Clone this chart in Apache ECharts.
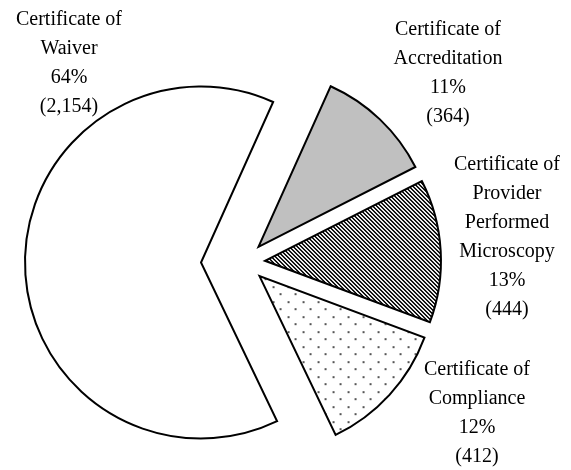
<!DOCTYPE html>
<html lang="en">
<head>
<meta charset="UTF-8">
<title>Certificate types</title>
<script src="https://cdn.jsdelivr.net/npm/echarts@6/dist/echarts.min.js"></script>
<style>
    body { margin: 0; background: #fff; }
    #chart { width: 571px; height: 470px; }
</style>
</head>
<body>
<div id="chart"></div>
<script>
    // slices, clockwise from the top edge of Accreditation
    const names = [
        'Certificate of\nAccreditation',
        'Certificate of\nProvider\nPerformed\nMicroscopy',
        'Certificate of\nCompliance',
        'Certificate of\nWaiver'
    ];
    const counts = [364, 444, 412, 2154];
    // centre of each label block
    const labelPos = [[448, 73], [507, 237], [477, 413], [69, 63]];

    // hatched fills
    function stripes() {
        const c = document.createElement('canvas');
        c.width = 4; c.height = 4;
        const ctx = c.getContext('2d');
        ctx.fillStyle = '#fff';
        ctx.fillRect(0, 0, 4, 4);
        ctx.fillStyle = '#000';
        for (let y = 0; y < 4; y++) {
            for (let x = 0; x < 4; x++) {
                const k = ((x - y) % 4 + 4) % 4;
                if (k < 2) ctx.fillRect(x, y, 1, 1);
            }
        }
        return { image: c, repeat: 'repeat' };
    }

    function dots() {
        const c = document.createElement('canvas');
        c.width = 15; c.height = 15;
        const ctx = c.getContext('2d');
        ctx.fillStyle = '#fff';
        ctx.fillRect(0, 0, 15, 15);
        ctx.fillStyle = '#555';
        ctx.fillRect(2, 2, 2, 2);
        ctx.fillRect(9, 9, 2, 2);
        return { image: c, repeat: 'repeat' };
    }

    const fills = ['#c0c0c0', stripes(), dots(), '#fff'];

    function pieSeries(shown, offset) {
        return {
            type: 'pie',
            center: [244, 262],
            radius: 176,
            startAngle: 65.8,
            selectedMode: 'multiple',
            selectedOffset: offset,
            animation: false,
            silent: true,
            emphasis: { disabled: true },
            label: { show: false },
            labelLine: { show: false },
            data: counts.map((v, i) => {
                const on = shown.includes(i);
                const style = on
                    ? { color: fills[i], borderColor: '#000', borderWidth: 2, borderJoin: 'miter' }
                    : { color: 'rgba(0,0,0,0)', borderWidth: 0, opacity: 0 };
                return {
                    name: names[i],
                    value: v,
                    selected: on,
                    itemStyle: style,
                    select: { itemStyle: style }
                };
            })
        };
    }

    const total = counts.reduce((a, b) => a + b, 0);
    const labels = counts.map((v, i) => ({
        type: 'text',
        x: labelPos[i][0],
        y: labelPos[i][1],
        silent: true,
        style: {
            text: names[i] + '\n' + Math.round(v / total * 100) + '%\n(' + echarts.format.addCommas(v) + ')',
            fontFamily: 'Liberation Serif',
            fontSize: 20,
            lineHeight: 29,
            fill: '#000',
            align: 'center',
            verticalAlign: 'middle'
        }
    }));

    const chart = echarts.init(document.getElementById('chart'));
    chart.setOption({
        backgroundColor: '#fff',
        series: [
            pieSeries([3], 43),
            pieSeries([0, 1, 2], 21)
        ],
        graphic: labels
    });
</script>
</body>
</html>
